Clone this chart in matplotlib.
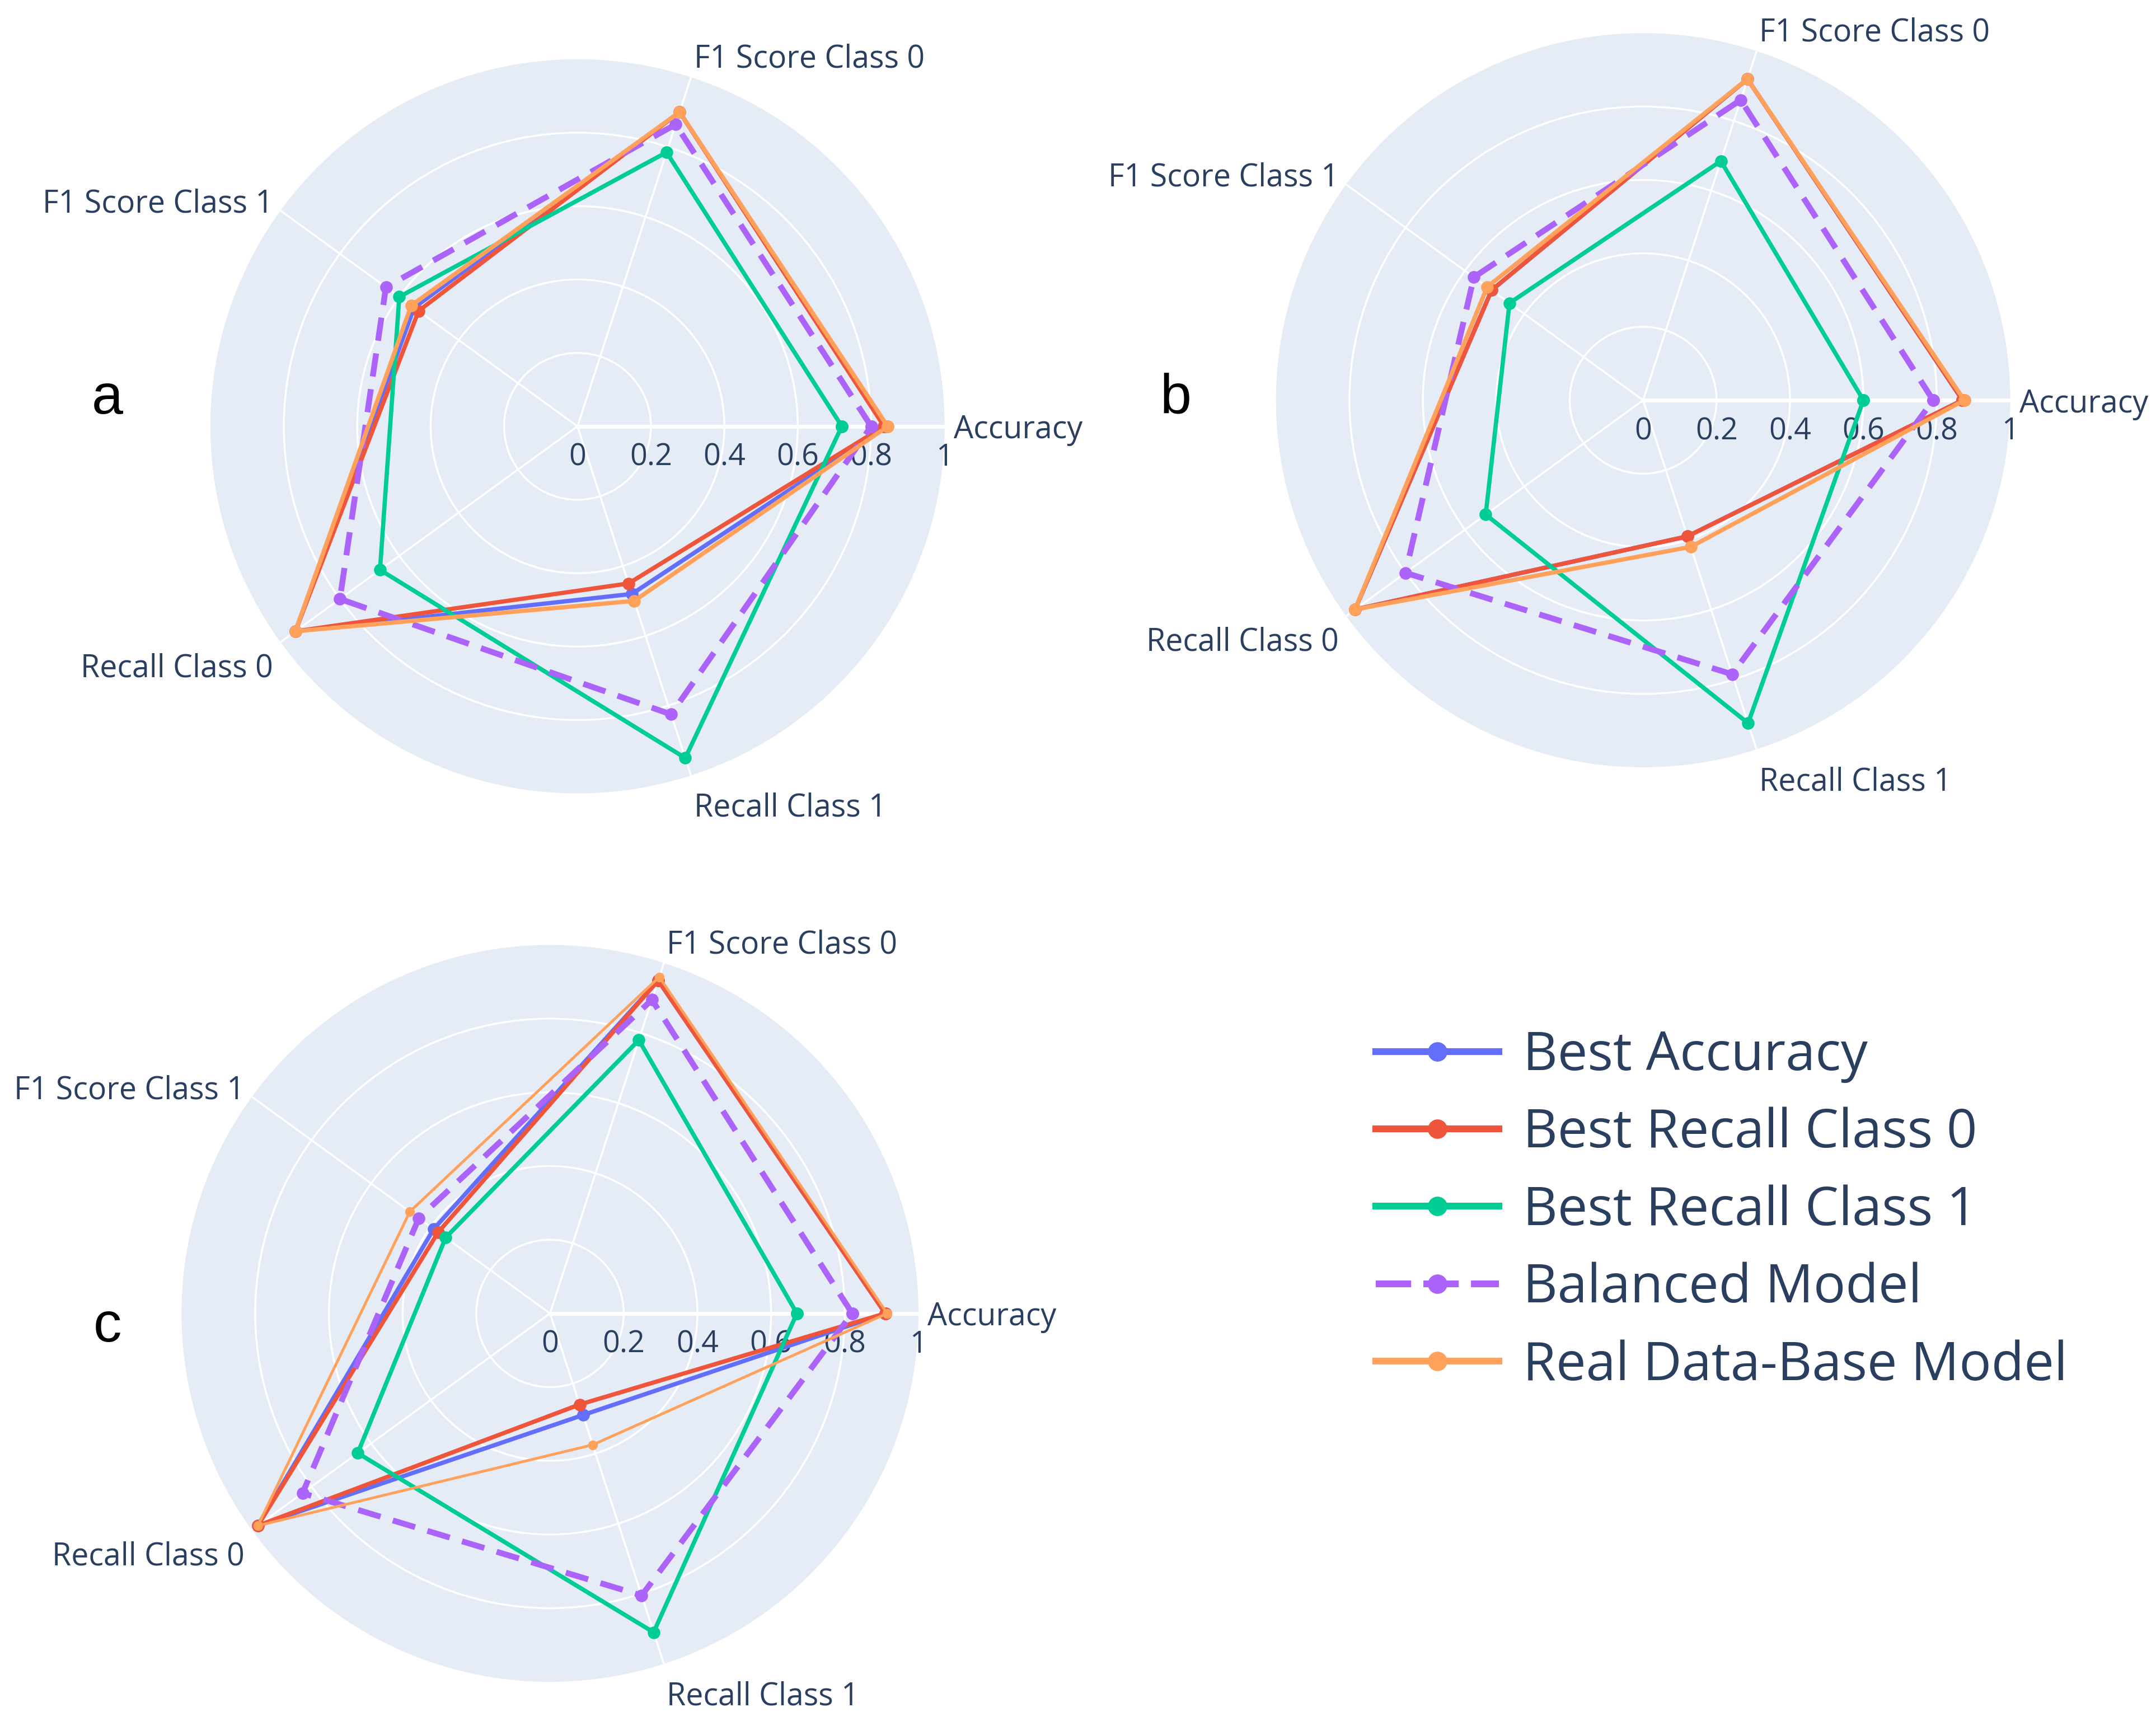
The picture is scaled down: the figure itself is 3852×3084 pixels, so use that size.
import numpy as np
import matplotlib.pyplot as plt
from matplotlib.lines import Line2D
from matplotlib.transforms import offset_copy

plt.rcParams['font.family'] = ['Open Sans', 'DejaVu Sans']

categories = ["Accuracy", "F1 Score Class 0", "F1 Score Class 1", "Recall Class 0", "Recall Class 1"]
models = ["Best Accuracy", "Best Recall Class 0", "Best Recall Class 1", "Balanced Model", "Real Data-Base Model"]
colors = ["#636EFA", "#EF553B", "#00CC96", "#AB63FA", "#FFA15A"]

# panel a
a_best_acc = [0.84, 0.90, 0.55, 0.95, 0.48]
a_best_rec0 = [0.835, 0.90, 0.535, 0.95, 0.45]
a_best_rec1 = [0.72, 0.785, 0.60, 0.665, 0.95]
a_balanced = [0.80, 0.865, 0.645, 0.80, 0.825]
a_real = [0.845, 0.90, 0.56, 0.95, 0.50]

# panel b
b_best_acc = [0.87, 0.92, 0.51, 0.97, 0.39]
b_best_rec0 = [0.87, 0.92, 0.51, 0.97, 0.39]
b_best_rec1 = [0.60, 0.685, 0.45, 0.53, 0.925]
b_balanced = [0.79, 0.86, 0.57, 0.80, 0.785]
b_real = [0.875, 0.92, 0.525, 0.97, 0.42]

# panel c
c_best_acc = [0.91, 0.95, 0.39, 0.98, 0.29]
c_best_rec0 = [0.91, 0.95, 0.375, 0.98, 0.26]
c_best_rec1 = [0.67, 0.78, 0.35, 0.645, 0.91]
c_balanced = [0.82, 0.895, 0.44, 0.83, 0.805]
c_real = [0.915, 0.96, 0.47, 0.98, 0.375]

r_ticks = [0, 0.2, 0.4, 0.6, 0.8, 1]
r_tick_labels = ["0", "0.2", "0.4", "0.6", "0.8", "1"]

W, H = 1568, 1255
fig = plt.figure(figsize=(15.408, 12.336), dpi=250)
fig.patch.set_facecolor("white")

angles = np.arange(len(categories)) * 2 * np.pi / len(categories)
txt_color = "#2a3f5f"
# extra downward nudge (points) for each angular label
label_drop = [2, 3.5, 7.8, 2.8, 4.2]


def radar(rect, series, letter, letter_xy, thin_real=False):
    ax = fig.add_axes(rect, projection="polar")
    ax.set_facecolor("#E5ECF6")
    ax.spines["polar"].set_visible(False)
    ax.set_ylim(0, 1)
    ax.set_yticks([0.2, 0.4, 0.6, 0.8])
    ax.set_yticklabels([])
    ax.set_xticks(angles)
    ax.set_xticklabels([])
    ax.tick_params(length=0)
    ax.grid(color="white", lw=1.0)
    ax.plot([0, 0], [0, 1], color="white", lw=2.0, zorder=1)

    trans = offset_copy(ax.transData, fig=fig, y=-16, units="points")
    for r, lab in zip(r_ticks, r_tick_labels):
        ax.text(0, r, lab, transform=trans, ha="center", va="center",
                fontsize=15.5, color=txt_color, zorder=2)

    for ang, cat, drop in zip(angles, categories, label_drop):
        c, s = np.cos(ang), np.sin(ang)
        ha = "left" if c > 0.01 else ("right" if c < -0.01 else "center")
        va = "bottom" if s > 0.5 else ("top" if s < -0.5 else "center")
        t = offset_copy(ax.transData, fig=fig, y=-drop, units="points")
        ax.text(ang, 1.025, cat, transform=t, ha=ha, va=va, fontsize=16,
                color=txt_color, clip_on=False)

    for i, vals in enumerate(series):
        v = list(vals) + [vals[0]]
        th = list(angles) + [angles[0]]
        ls = "--" if i == 3 else "-"
        lw = 3.0 if i == 3 else 2.2
        ms = 5.5
        if i == 4 and thin_real:
            lw, ms = 1.4, 4
        line, = ax.plot(th, v, color=colors[i], lw=lw, ls=ls, marker="o",
                        ms=ms, zorder=3 + i, clip_on=False)
        if i == 3:
            line.set_dashes((4, 2.2))

    fig.text(letter_xy[0] / W, 1 - letter_xy[1] / H, letter, fontsize=29,
             family="Liberation Sans", ha="center", va="center")
    return ax


def rect_for(cx, cy, R):
    return [(cx - R) / W, 1 - (cy + R) / H, 2 * R / W, 2 * R / H]


radar(rect_for(420, 310, 267),
      [a_best_acc, a_best_rec0, a_best_rec1, a_balanced, a_real], "a", (78, 290))
radar(rect_for(1195, 291, 267),
      [b_best_acc, b_best_rec0, b_best_rec1, b_balanced, b_real], "b", (855, 290))
radar(rect_for(400, 955, 268),
      [c_best_acc, c_best_rec0, c_best_rec1, c_balanced, c_real], "c", (78, 965),
      thin_real=True)

handles = []
for i, m in enumerate(models):
    h = Line2D([], [], color=colors[i], lw=3.5, marker="o", ms=9,
               ls="--" if i == 3 else "-")
    if i == 3:
        h.set_dashes((5.2, 1.8))
    handles.append(h)

fig.legend(handles, models, loc="upper left",
           bbox_to_anchor=(985 / W, 1 - 733 / H), frameon=False,
           fontsize=27.5, labelcolor=txt_color, handlelength=2.3,
           handletextpad=0.45, labelspacing=0.45, borderaxespad=0)

fig.savefig("out.png", dpi=250, facecolor="white")
